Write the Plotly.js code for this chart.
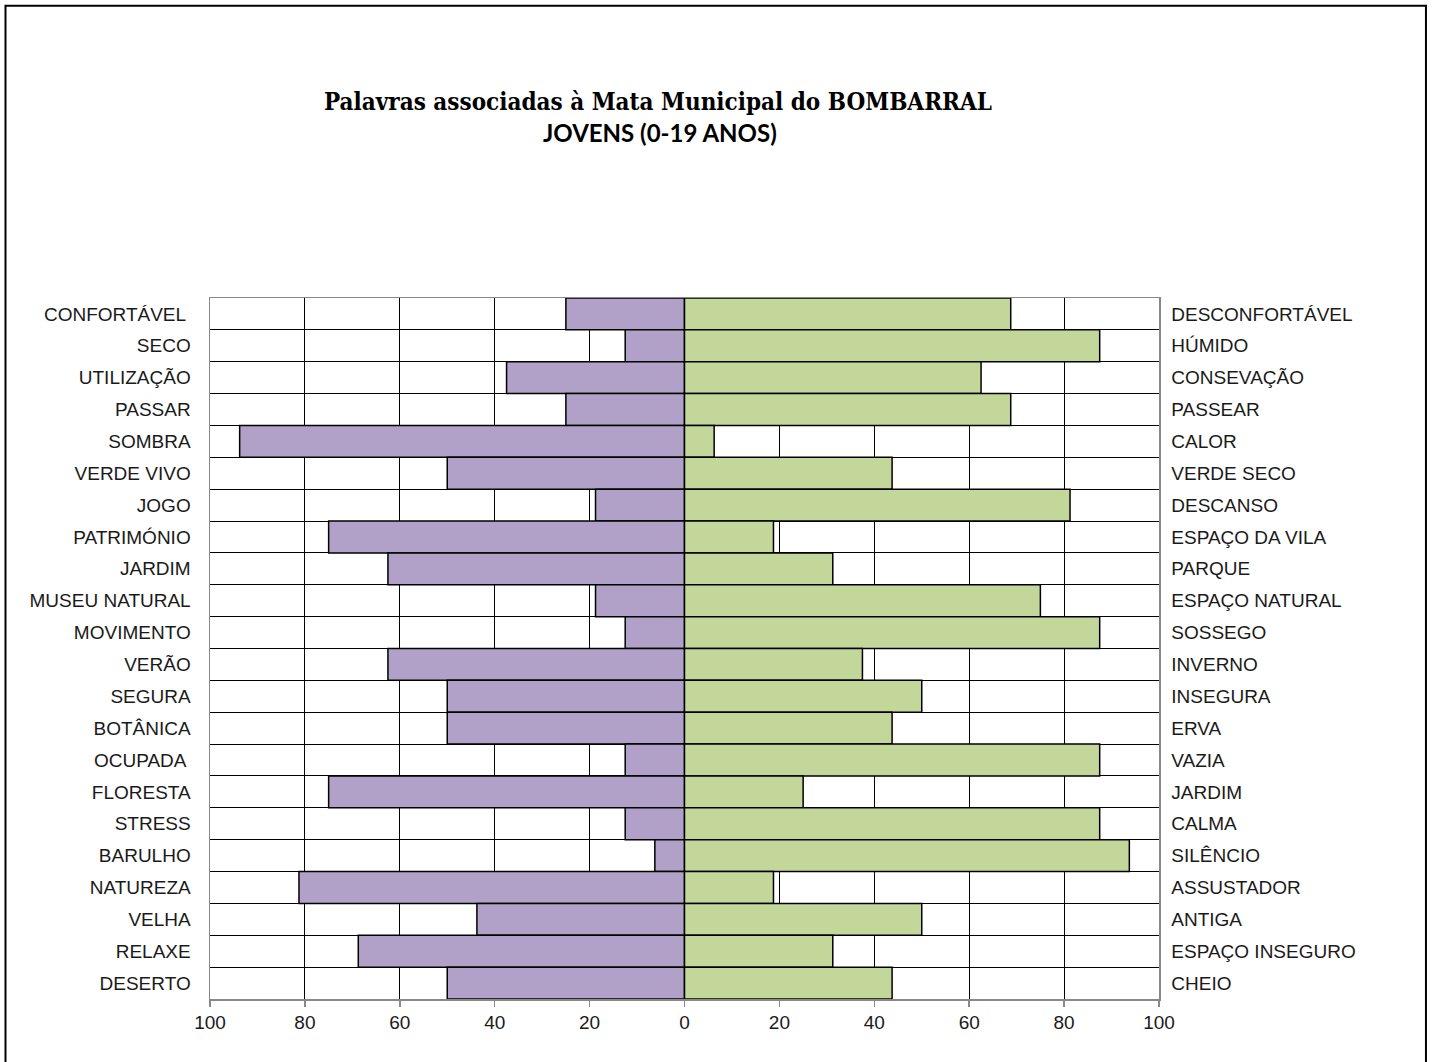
<!DOCTYPE html>
<html>
<head>
<meta charset="utf-8">
<script src="https://cdn.plot.ly/plotly-3.0.1.min.js"></script>
<style>html,body{margin:0;padding:0;background:#fff;}#chart{width:1433px;height:1062px;}</style>
</head>
<body>
<div id="chart"></div>
<script>
const leftLabels = ["CONFORTÁVEL ","SECO","UTILIZAÇÃO","PASSAR","SOMBRA","VERDE VIVO","JOGO","PATRIMÓNIO","JARDIM","MUSEU NATURAL","MOVIMENTO","VERÃO","SEGURA","BOTÂNICA","OCUPADA ","FLORESTA","STRESS","BARULHO","NATUREZA","VELHA","RELAXE","DESERTO"];
const leftValues = [25,12.5,37.5,25,93.75,50,18.75,75,62.5,18.75,12.5,62.5,50,50,12.5,75,12.5,6.25,81.25,43.75,68.75,50];
const rightLabels = ["DESCONFORTÁVEL","HÚMIDO","CONSEVAÇÃO","PASSEAR","CALOR","VERDE SECO","DESCANSO","ESPAÇO DA VILA","PARQUE","ESPAÇO NATURAL","SOSSEGO","INVERNO","INSEGURA","ERVA","VAZIA","JARDIM","CALMA","SILÊNCIO","ASSUSTADOR","ANTIGA","ESPAÇO INSEGURO","CHEIO"];
const rightValues = [68.75,87.5,62.5,68.75,6.25,43.75,81.25,18.75,31.25,75,87.5,37.5,50,43.75,87.5,25,87.5,93.75,18.75,50,31.25,43.75];
const xTickVals = [-100,-80,-60,-40,-20,0,20,40,60,80,100];
const xTickText = ["100","80","60","40","20","0","20","40","60","80","100"];
const titleLine1 = "Palavras associadas à Mata Municipal do BOMBARRAL";
const titleLine2 = "JOVENS (0-19 ANOS)";

const tickFont = {family: "Liberation Sans, Arial, sans-serif", size: 19, color: "#1a1a1a"};

const traces = [
  {type: "bar", orientation: "h", x: leftValues.map(v => -v), y: leftLabels, yaxis: "y",
   marker: {color: "#B1A0C7", line: {color: "#000", width: 1.5}}, width: 1, hoverinfo: "skip"},
  {type: "bar", orientation: "h", x: rightValues, y: rightLabels, yaxis: "y2",
   marker: {color: "#C4D79B", line: {color: "#000", width: 1.5}}, width: 1, hoverinfo: "skip"}
];

const layout = {
  width: 1433, height: 1062,
  margin: {l: 210, r: 274, t: 298, b: 63},
  paper_bgcolor: "#fff", plot_bgcolor: "#fff",
  showlegend: false, barmode: "overlay", bargap: 0,
  xaxis: {range: [-100, 100], tickvals: xTickVals, ticktext: xTickText,
    showgrid: true, gridcolor: "#000", gridwidth: 1,
    zeroline: true, zerolinecolor: "#000", zerolinewidth: 1.5,
    showline: true, mirror: true, linecolor: "#888", linewidth: 1.5,
    ticks: "outside", ticklen: 6, tickcolor: "#888", tickwidth: 1.5,
    tickfont: tickFont, fixedrange: true},
  yaxis: {type: "category", categoryorder: "array", categoryarray: leftLabels, autorange: "reversed",
    showgrid: true, gridcolor: "#000", gridwidth: 1, tickson: "boundaries",
    ticks: "", showline: true, linecolor: "#888", linewidth: 1.5,
    tickfont: tickFont, ticklabelstandoff: 14, fixedrange: true},
  yaxis2: {type: "category", categoryorder: "array", categoryarray: rightLabels, autorange: "reversed",
    overlaying: "y", side: "right", showgrid: false,
    ticks: "", showline: true, linecolor: "#888", linewidth: 1.5,
    tickfont: tickFont, ticklabelstandoff: 7, fixedrange: true},
  annotations: [
    {text: "<b>" + titleLine1 + "</b>", xref: "paper", yref: "paper", x: 0.472, y: 1.281,
     xanchor: "center", yanchor: "middle", showarrow: false,
     font: {family: "DejaVu Serif Condensed, DejaVu Serif, serif", size: 24, color: "#000"}},
    {text: "<b>" + titleLine2 + "</b>", xref: "paper", yref: "paper", x: 0.474, y: 1.236,
     xanchor: "center", yanchor: "middle", showarrow: false,
     font: {family: "Lato, Open Sans, sans-serif", size: 24, color: "#000"}}
  ],
  shapes: [
    {type: "rect", xref: "paper", yref: "paper", x0: -0.2155, x1: 1.2813, y0: -0.092, y1: 1.417,
     line: {color: "#000", width: 2}, fillcolor: "rgba(0,0,0,0)", layer: "below"}
  ]
};

Plotly.newPlot("chart", traces, layout, {displayModeBar: false, staticPlot: true});
</script>
</body>
</html>
